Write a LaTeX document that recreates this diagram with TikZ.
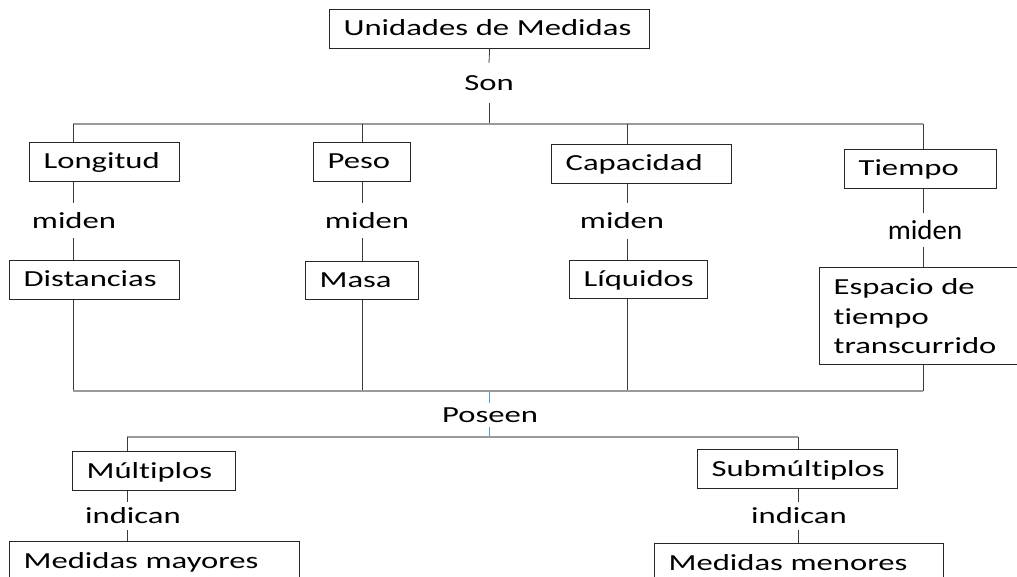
\documentclass[tikz,border=0pt]{standalone}
\usepackage{fontspec}
\setmainfont{Carlito}[FakeStretch=1.42,Ligatures={NoCommon}]
\newfontfamily\bigmiden{Carlito}[FakeStretch=1.05,Ligatures={NoCommon}]
\definecolor{boxc}{HTML}{262626}
\definecolor{vlc}{HTML}{3A3A3A}
\definecolor{busc}{HTML}{9A9A9A}
\definecolor{bluec}{HTML}{5B9BD5}
\begin{document}
\begin{tikzpicture}[x=1pt,y=-1pt,
  font=\fontsize{23}{29.5}\selectfont,
  boxbase/.style={draw=boxc,line width=1.2pt,anchor=north west,inner xsep=14pt,inner ysep=0pt,align=left},
  box/.style={boxbase,minimum height=39pt,text height=18pt,text depth=4.2pt},
  box3/.style={boxbase},
  lab/.style={inner sep=0pt},
  vline/.style={draw=vlc,line width=0.8pt},
  bus/.style={draw=busc,line width=1.3pt},
  bline/.style={draw=bluec,line width=0.8pt}]
\useasboundingbox (0,0) rectangle (1017,577);

% top level
\node[box,text width=292pt] (top) at (329,9) {Unidades de Medidas};
\node[lab,minimum height=40pt] (son) at (489,83) {Son};
\coordinate (s0) at (489,124);
\coordinate (t1) at (73,124);
\coordinate (t2) at (362,124);
\coordinate (t3) at (627,124);
\coordinate (t4) at (923,124);

% categories
\node[box,text width=122pt] (lon) at (29,142) {Longitud};
\node[box,text width=69pt] (pes) at (313,142) {Peso};
\node[box,text width=152pt] (cap) at (551,144) {Capacidad};
\node[box,text width=124pt] (tie) at (844,149) {Tiempo};

% miden labels
\node[lab,minimum height=35pt] (m1) at (74,220.5) {miden};
\node[lab,minimum height=35pt] (m2) at (367,220.5) {miden};
\node[lab,minimum height=35pt] (m3) at (622,221) {miden};
\node[lab,minimum height=33pt,font=\bigmiden\fontsize{27.5}{33}\selectfont] (m4) at (925,230) {miden};

% measured things
\node[box,text width=142pt] (dis) at (9,260) {Distancias};
\node[box,text width=85pt,minimum height=38pt] (mas) at (305,261) {Masa};
\node[box,text width=110pt,minimum height=38pt] (liq) at (569,260) {Líquidos};
\node[box3,text width=183pt,minimum height=97pt] (esp) at (819,267) {Espacio de\\tiempo\\transcurrido};

% lower bus
\coordinate (u1) at (73,391);
\coordinate (u2) at (362,391);
\coordinate (u3) at (627,391);
\coordinate (u4) at (923,391);
\coordinate (u0) at (489,391);
\node[lab,minimum height=24pt] (pos) at (490,415) {Poseen};
\coordinate (v0) at (489,437);
\coordinate (v1) at (127,437);
\coordinate (v2) at (798,437);

\node[box,text width=135pt] (mul) at (72,451) {Múltiplos};
\node[box,text width=172pt] (sub) at (697,449) {Submúltiplos};
\node[lab,minimum height=28pt] (i1) at (133,516) {indican};
\node[lab,minimum height=28pt] (i2) at (799,516) {indican};
\node[box,text width=262pt] (may) at (9,541) {Medidas mayores};
\node[box,text width=261pt] (men) at (654,543) {Medidas menores};

% connectors top
\draw[vline] (top.south) -- (son.north);
\draw[vline] (son.south) -- (s0);
\draw[bus] (t1) -- (t4);
\draw[vline] (t1) -- (t1 |- lon.north);
\draw[vline] (t2) -- (t2 |- pes.north);
\draw[vline] (t3) -- (t3 |- cap.north);
\draw[vline] (t4) -- (t4 |- tie.north);

% columns
\draw[vline] (t1 |- lon.south) -- (t1 |- m1.north);
\draw[vline] (t1 |- m1.south) -- (t1 |- dis.north);
\draw[vline] (t2 |- pes.south) -- (t2 |- m2.north);
\draw[vline] (t2 |- m2.south) -- (t2 |- mas.north);
\draw[vline] (t3 |- cap.south) -- (t3 |- m3.north);
\draw[vline] (t3 |- m3.south) -- (t3 |- liq.north);
\draw[vline] (t4 |- tie.south) -- (t4 |- m4.north);
\draw[vline] (t4 |- m4.south) -- (t4 |- esp.north);

% down to lower bus
\draw[vline] (u1 |- dis.south) -- (u1);
\draw[vline] (u2 |- mas.south) -- (u2);
\draw[vline] (u3 |- liq.south) -- (u3);
\draw[vline] (u4 |- esp.south) -- (u4);
\draw[bus] (u1) -- (u4);

% poseen
\draw[bline] (u0) -- (u0 |- pos.north);
\draw[bline] (v0 |- pos.south) -- (v0);
\draw[bus] (v1) -- (v2);
\draw[vline] (v1) -- (v1 |- mul.north);
\draw[vline] (v2) -- (v2 |- sub.north);
\draw[vline] (v1 |- mul.south) -- (v1 |- i1.north);
\draw[vline] (v1 |- i1.south) -- (v1 |- may.north);
\draw[vline] (v2 |- sub.south) -- (v2 |- i2.north);
\draw[vline] (v2 |- i2.south) -- (v2 |- men.north);
\end{tikzpicture}
\end{document}
